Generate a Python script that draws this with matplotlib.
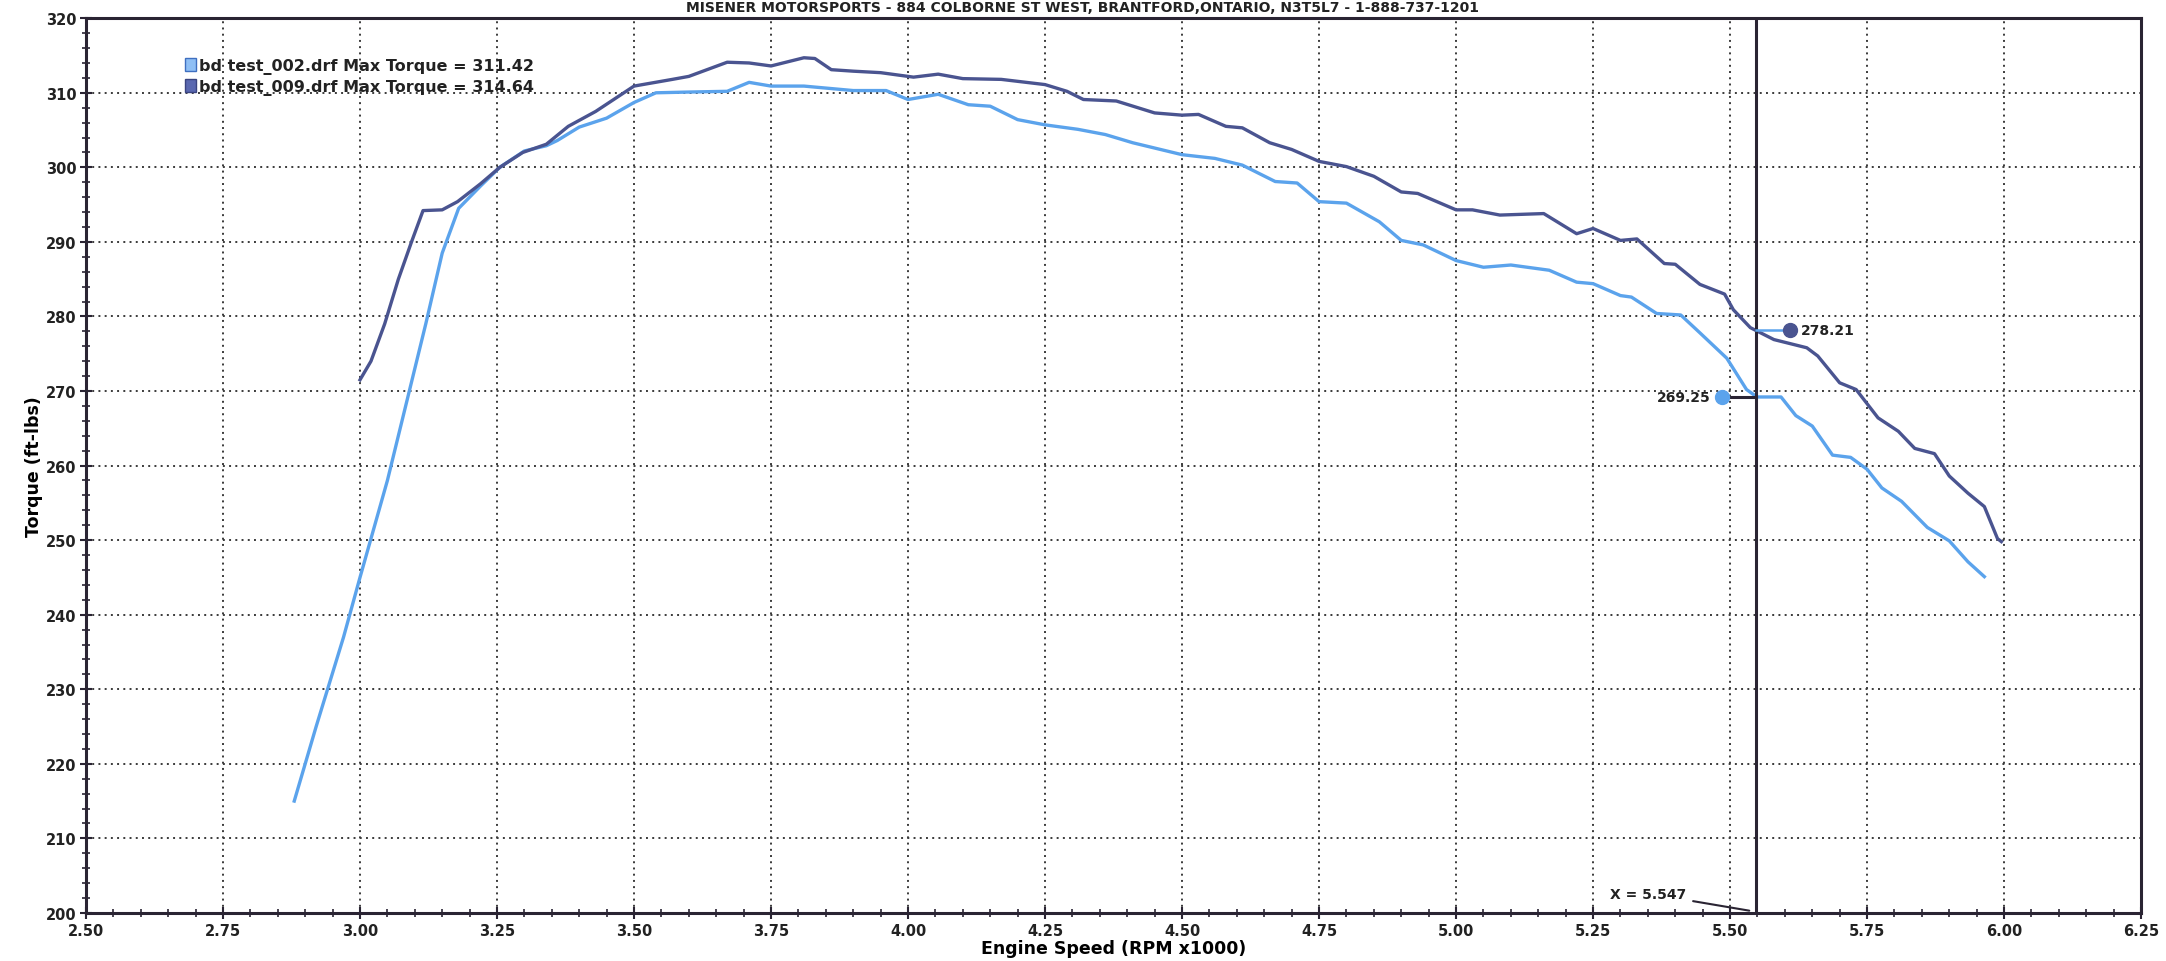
import matplotlib
matplotlib.use("Agg")
import matplotlib.pyplot as plt
from matplotlib.patches import Patch
from matplotlib.ticker import MultipleLocator, FormatStrFormatter

# run bd test_002 (light blue)
rpm_002 = [2.88, 2.92, 2.97, 3.00, 3.05, 3.10, 3.12, 3.15, 3.18, 3.22, 3.255, 3.30,
           3.34, 3.36, 3.40, 3.45, 3.50, 3.54, 3.60, 3.67, 3.71, 3.75, 3.81, 3.90,
           3.96, 4.00, 4.055, 4.11, 4.15, 4.20, 4.25, 4.31, 4.36, 4.41, 4.50, 4.56,
           4.61, 4.67, 4.71, 4.75, 4.80, 4.86, 4.90, 4.94, 5.00, 5.05, 5.10, 5.17,
           5.22, 5.25, 5.30, 5.32, 5.366, 5.41, 5.445, 5.494, 5.53, 5.549, 5.593,
           5.62, 5.65, 5.687, 5.72, 5.75, 5.777, 5.813, 5.86, 5.90, 5.934, 5.964]
tq_002 = [215, 225, 237, 245, 258, 273, 279, 288.5, 294.5, 297.5, 300, 302.2,
          302.9, 303.6, 305.4, 306.6, 308.7, 310, 310.1, 310.2, 311.4, 310.9, 310.9, 310.3,
          310.3, 309.1, 309.8, 308.4, 308.2, 306.4, 305.7, 305.1, 304.4, 303.3, 301.7, 301.2,
          300.3, 298.1, 297.9, 295.4, 295.2, 292.7, 290.2, 289.6, 287.5, 286.6, 286.9, 286.2,
          284.6, 284.4, 282.8, 282.6, 280.4, 280.2, 277.8, 274.4, 270.2, 269.2, 269.2,
          266.7, 265.3, 261.4, 261.1, 259.5, 257, 255.2, 251.7, 249.9, 247.1, 245.1]

# run bd test_009 (dark blue)
rpm_009 = [3.00, 3.02, 3.045, 3.07, 3.094, 3.115, 3.15, 3.178, 3.22, 3.255, 3.297, 3.34,
           3.38, 3.43, 3.50, 3.57, 3.60, 3.67, 3.71, 3.75, 3.81, 3.83, 3.86, 3.90,
           3.95, 4.01, 4.055, 4.10, 4.17, 4.25, 4.29, 4.32, 4.38, 4.45, 4.50, 4.53,
           4.58, 4.61, 4.66, 4.70, 4.75, 4.80, 4.85, 4.90, 4.93, 5.00, 5.03, 5.08,
           5.16, 5.22, 5.25, 5.30, 5.33, 5.38, 5.40, 5.445, 5.49, 5.506, 5.537, 5.58,
           5.64, 5.66, 5.70, 5.73, 5.77, 5.807, 5.837, 5.873, 5.90, 5.934, 5.964, 5.988, 5.995]
tq_009 = [271.5, 274, 279, 285, 290, 294.2, 294.3, 295.4, 297.8, 300, 302, 303.1,
          305.5, 307.5, 310.9, 311.8, 312.2, 314.1, 314, 313.6, 314.7, 314.6, 313.1, 312.9,
          312.7, 312.1, 312.5, 311.9, 311.8, 311.1, 310.2, 309.1, 308.9, 307.3, 307, 307.1,
          305.5, 305.3, 303.3, 302.4, 300.8, 300.1, 298.8, 296.7, 296.5, 294.3, 294.3, 293.6,
          293.8, 291.1, 291.8, 290.2, 290.4, 287.1, 287, 284.3, 283, 280.9, 278.5, 276.9,
          275.8, 274.7, 271.1, 270.2, 266.4, 264.6, 262.3, 261.6, 258.6, 256.3, 254.5, 250.2, 249.8]

legend_labels = ["bd test_002.drf Max Torque = 311.42",
                 "bd test_009.drf Max Torque = 314.64"]
cursor_x = 5.547
cursor_vals = [269.25, 278.21]   # 002, 009 at cursor

light = "#5ba3ec"
dark = "#4a5490"
ink = "#2a2433"

fig = plt.figure(figsize=(21.66, 9.62), dpi=100)
ax = fig.add_axes([0.0397, 0.050, 0.9488, 0.930])

ax.plot(rpm_002, tq_002, color=light, lw=2.4, zorder=3)
ax.plot(rpm_009, tq_009, color=dark, lw=2.4, zorder=3)

ax.set_xlim(2.5, 6.25)
ax.set_ylim(200, 320)
ax.xaxis.set_major_locator(MultipleLocator(0.25))
ax.xaxis.set_major_formatter(FormatStrFormatter("%.2f"))
ax.xaxis.set_minor_locator(MultipleLocator(0.05))
ax.yaxis.set_major_locator(MultipleLocator(10))
ax.yaxis.set_minor_locator(MultipleLocator(2))
ax.tick_params(axis="both", which="major", direction="inout", length=8, width=1.5,
               color=ink, labelsize=10.5, pad=3)
ax.tick_params(axis="both", which="minor", direction="inout", length=6, width=1.2, color=ink)
for lab in ax.get_xticklabels() + ax.get_yticklabels():
    lab.set_fontweight("bold")
    lab.set_color("#222222")

ax.grid(True, which="major", color="#3a3a3a", lw=1.4, linestyle=(0, (1, 2.2)))
for sp in ax.spines.values():
    sp.set_color(ink)
    sp.set_linewidth(2.2)

ax.set_xlabel("Engine Speed (RPM x1000)", fontsize=12.5, fontweight="bold", labelpad=1)
ax.set_ylabel("Torque (ft-lbs)", fontsize=12.5, fontweight="bold", labelpad=2)

# cursor
ax.axvline(cursor_x, color=ink, lw=2.2, zorder=4)
ax.annotate("X = %.3f" % cursor_x, xy=(cursor_x - 0.012, 200.3), xytext=(5.42, 202.6),
            fontsize=10, fontweight="bold", ha="right", va="center", color="#222222",
            arrowprops=dict(arrowstyle="-", color=ink, lw=1.5, shrinkA=3, shrinkB=0))

# cursor readouts
off = 0.062
ax.plot([cursor_x, cursor_x + off], [cursor_vals[1]] * 2, color=light, lw=1.8, zorder=4)
ax.plot([cursor_x + off], [cursor_vals[1]], "o", color=dark, ms=10, zorder=5)
ax.text(cursor_x + off + 0.02, cursor_vals[1], "%.2f" % cursor_vals[1], fontsize=10,
        fontweight="bold", va="center", ha="left", color="#222222", zorder=6)
ax.plot([cursor_x - off, cursor_x], [cursor_vals[0]] * 2, color=ink, lw=2.2, zorder=4)
ax.plot([cursor_x - off], [cursor_vals[0]], "o", color=light, ms=10, zorder=5)
ax.text(cursor_x - off - 0.02, cursor_vals[0], "%.2f" % cursor_vals[0], fontsize=10,
        fontweight="bold", va="center", ha="right", color="#222222", zorder=6)

handles = [Patch(facecolor="#8fbff5", edgecolor="#3f6fc0"),
           Patch(facecolor="#5a68b0", edgecolor="#3a4480")]
leg = ax.legend(handles, legend_labels, loc="upper left", bbox_to_anchor=(0.048, 0.956),
                frameon=False, fontsize=11.5, handlelength=0.7, handleheight=0.9,
                handletextpad=0.2, labelspacing=0.3, borderpad=0, borderaxespad=0)
for t in leg.get_texts():
    t.set_fontweight("bold")
    t.set_color("#222222")

fig.text(0.5, 0.999, "MISENER MOTORSPORTS - 884 COLBORNE ST WEST, BRANTFORD,ONTARIO, N3T5L7 - 1-888-737-1201",
         ha="center", va="top", fontsize=10, fontweight="bold", color="#222222")

fig.savefig("out.png", dpi=100)
